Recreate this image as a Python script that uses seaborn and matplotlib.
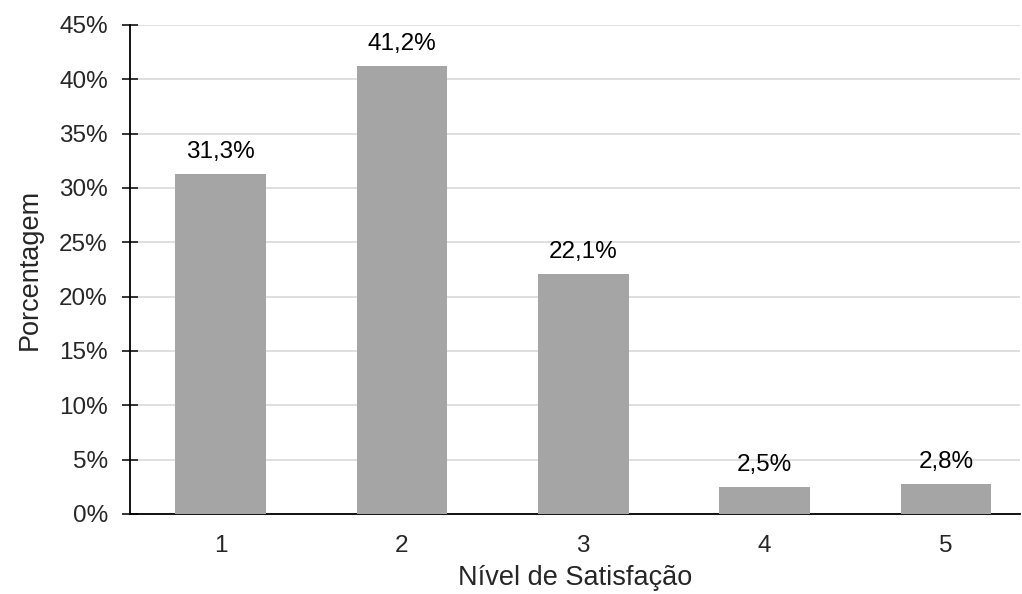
import matplotlib
matplotlib.use('Agg')
import matplotlib.pyplot as plt
import seaborn as sns
import pandas as pd
from matplotlib.ticker import FuncFormatter

# data
niveis = ['1', '2', '3', '4', '5']
porcentagens = [31.3, 41.2, 22.1, 2.5, 2.8]

df = pd.DataFrame({'Nivel': niveis, 'Pct': porcentagens})

sns.set_style('white')
plt.rcParams['font.family'] = ['Liberation Sans', 'DejaVu Sans']

fig = plt.figure(figsize=(10.22, 5.94), dpi=100)
ax = fig.add_axes([0.1272, 0.1347, 0.871, 0.8233])

sns.barplot(data=df, x='Nivel', y='Pct', color='#A5A5A5', saturation=1,
            width=0.5, linewidth=0, ax=ax, zorder=3)

# value labels
for i, v in enumerate(porcentagens):
    ax.text(i, v + 1.0, f'{v:.1f}%'.replace('.', ','), ha='center', va='bottom',
            fontsize=17.5, color='#000000')

ax.set_ylim(0, 45)
ax.set_yticks(range(0, 46, 5))
ax.yaxis.set_major_formatter(FuncFormatter(lambda y, p: f'{int(y)}%'))
ax.set_xlim(-0.5, 4.41)

ax.grid(axis='y', color='#D9D9D9', linewidth=1.2, zorder=0)
ax.set_axisbelow(True)

for s in ['top', 'right']:
    ax.spines[s].set_visible(False)
for s in ['left', 'bottom']:
    ax.spines[s].set_color('black')
    ax.spines[s].set_linewidth(1.3)

ax.tick_params(axis='y', direction='inout', length=12, width=1.3, labelsize=17.5,
               left=True, pad=10)
ax.tick_params(axis='x', length=0, labelsize=17.5, pad=15)

ax.set_xlabel('Nível de Satisfação', fontsize=19.5, labelpad=6)
ax.set_ylabel('Porcentagem', fontsize=19.5, labelpad=12)

fig.savefig('out.png', dpi=100)
